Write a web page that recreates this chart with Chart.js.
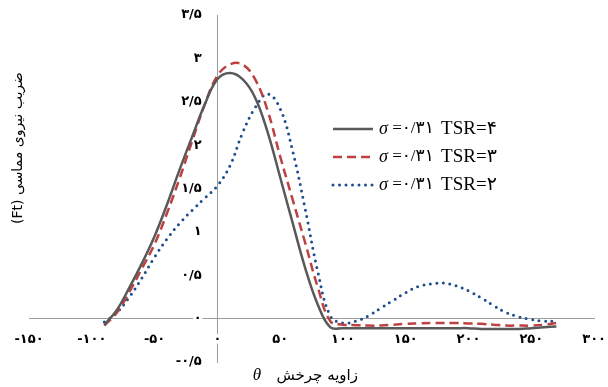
<!DOCTYPE html>
<html>
<head>
<meta charset="utf-8">
<script src="https://cdn.jsdelivr.net/npm/chart.js@4.4.1/dist/chart.umd.min.js"></script>
<style>
  html, body { margin: 0; padding: 0; background: #fff; }
  #wrap { width: 608px; height: 387px; }
</style>
</head>
<body>
<div id="wrap"><canvas id="chart" width="608" height="387"></canvas></div>
<script>
'use strict';

// rotation angle (deg) and tangential force coefficient per TSR
const theta = [-90,-80,-70,-60,-50,-40,-30,-20,-10,0,10,20,30,40,50,60,70,80,90,100,110,120,130,140,150,160,170,180,190,200,210,220,230,240,250,260,270];
const tsr4 = [-0.07,0.10,0.36,0.64,0.95,1.32,1.72,2.10,2.47,2.76,2.83,2.76,2.55,2.15,1.63,1.10,0.58,0.16,-0.10,-0.11,-0.11,-0.11,-0.11,-0.11,-0.11,-0.11,-0.11,-0.11,-0.11,-0.11,-0.12,-0.12,-0.12,-0.12,-0.11,-0.10,-0.09];
const tsr3 = [-0.08,0.07,0.31,0.58,0.86,1.22,1.62,2.05,2.47,2.80,2.93,2.93,2.76,2.40,1.87,1.37,0.87,0.36,-0.03,-0.07,-0.075,-0.08,-0.08,-0.07,-0.06,-0.055,-0.05,-0.05,-0.05,-0.055,-0.06,-0.07,-0.08,-0.08,-0.08,-0.07,-0.05];
const tsr2 = [-0.04,0.07,0.25,0.47,0.71,0.92,1.10,1.25,1.39,1.53,1.76,2.14,2.43,2.59,2.42,1.93,1.26,0.54,0.03,-0.05,-0.03,0.03,0.12,0.21,0.30,0.37,0.40,0.41,0.38,0.32,0.24,0.15,0.07,0.02,-0.01,-0.03,-0.03];

const seriesLabels = ['TSR=۴','TSR=۳','TSR=۲'];
const sigmaText = ' =۰/۳۱ ';

const xTickValues = [-150,-100,-50,0,50,100,150,200,250,300];
const xTickLabels = ['-۱۵۰','-۱۰۰','-۵۰','۰','۵۰','۱۰۰','۱۵۰','۲۰۰','۲۵۰','۳۰۰'];
const yTickValues = [-0.5,0,0.5,1,1.5,2,2.5,3,3.5];
const yTickLabels = ['-۰/۵','۰','۰/۵','۱','۱/۵','۲','۲/۵','۳','۳/۵'];

const xTitle = 'زاویه چرخش';
const yTitle = 'ضریب نیروی مماسی (Ft)';

const pts = arr => theta.map((t,i)=>({x:t, y:arr[i]}));
const tickFont = {family:'"DejaVu Sans"', size:13, weight:'bold'};
const axisColor = '#9c9c9c';

function tickLabel(values, labels, tail) {
  return v => {
    const i = values.findIndex(t=>Math.abs(t-v)<1e-6);
    return i<0 ? '' : labels[i] + (tail||'');
  };
}
// white halo round the zero labels, so the other axis line breaks there
const zeroHalo = c => (c.tick && c.tick.value===0) ? 7 : 0;

const legendPlugin = {
  id: 'sideLegend',
  afterDraw(chart) {
    const ctx = chart.ctx;
    const rows = [129,157,185];
    chart.data.datasets.forEach((ds,i)=>{
      const y = rows[i];
      ctx.save();
      ctx.strokeStyle = ds.borderColor;
      ctx.lineWidth = ds.borderWidth;
      ctx.lineCap = ds.borderCapStyle || 'butt';
      ctx.setLineDash(ds.borderDash || []);
      ctx.beginPath(); ctx.moveTo(333,y); ctx.lineTo(373,y); ctx.stroke();
      ctx.restore();
      ctx.save();
      ctx.fillStyle = '#000';
      ctx.textBaseline = 'middle';
      ctx.textAlign = 'left';
      ctx.font = 'italic 18px "Liberation Serif"';
      ctx.fillText('σ', 379, y);
      let x = 379 + ctx.measureText('σ').width;
      ctx.font = '17px "Liberation Serif", "DejaVu Sans"';
      ctx.fillText(sigmaText, x, y);
      x += ctx.measureText(sigmaText).width + 3;
      ctx.font = '19px "Liberation Serif", "DejaVu Sans"';
      ctx.fillText(ds.label, x, y);
      ctx.restore();
    });
  }
};

const titlePlugin = {
  id: 'axisTitles',
  afterDraw(chart) {
    const ctx = chart.ctx;
    ctx.save();
    ctx.fillStyle = '#000';
    ctx.textBaseline = 'middle';
    ctx.font = '15px "DejaVu Sans"';
    ctx.direction = 'rtl';
    ctx.textAlign = 'right';
    ctx.fillText(xTitle, 358, 376);
    ctx.direction = 'ltr';
    ctx.textAlign = 'center';
    ctx.font = 'italic 17px "Liberation Serif"';
    ctx.fillText('θ', 257, 376);
    ctx.translate(18, 148);
    ctx.rotate(-Math.PI/2);
    ctx.direction = 'rtl';
    ctx.textAlign = 'center';
    ctx.font = '14px "DejaVu Sans"';
    ctx.fillText(yTitle, 0, 0);
    ctx.restore();
  }
};

new Chart(document.getElementById('chart'), {
  type: 'line',
  data: {
    datasets: [
      {label:seriesLabels[0], data:pts(tsr4), borderColor:'#595959', borderWidth:2.5, tension:0.4},
      {label:seriesLabels[1], data:pts(tsr3), borderColor:'#BE4040', borderWidth:2.5, borderDash:[9,5], tension:0.4},
      {label:seriesLabels[2], data:pts(tsr2), borderColor:'#1F4E8C', borderWidth:3, borderDash:[0,6.5], borderCapStyle:'round', tension:0.4},
    ]
  },
  options: {
    responsive:false, animation:false,
    layout:{padding:{left:29,right:13,top:15,bottom:25}},
    elements:{point:{radius:0}},
    plugins:{legend:{display:false}, tooltip:{enabled:false}},
    scales:{
      x:{
        type:'linear', position:{y:0}, min:-150, max:300,
        afterBuildTicks: s => { s.ticks = xTickValues.map(v=>({value:v})); },
        grid:{display:true, color:'rgba(0,0,0,0)', drawTicks:true, tickLength:11},
        border:{color:axisColor, width:1},
        ticks:{callback:tickLabel(xTickValues,xTickLabels), font:tickFont, color:'#000', padding:2, maxRotation:0, autoSkip:false, z:1,
          textStrokeColor:'#fff', textStrokeWidth:zeroHalo}
      },
      y:{
        type:'linear', position:{x:0}, min:-0.5, max:3.5,
        afterBuildTicks: s => { s.ticks = yTickValues.map(v=>({value:v})); },
        grid:{display:true, color:'rgba(0,0,0,0)', drawTicks:false},
        border:{color:axisColor, width:1},
        ticks:{callback:tickLabel(yTickValues,yTickLabels,'\u2003\u2009'), font:tickFont, color:'#000', padding:0, autoSkip:false, z:1,
          textStrokeColor:'#fff', textStrokeWidth:zeroHalo}
      }
    }
  },
  plugins:[legendPlugin, titlePlugin]
});
</script>
</body>
</html>
